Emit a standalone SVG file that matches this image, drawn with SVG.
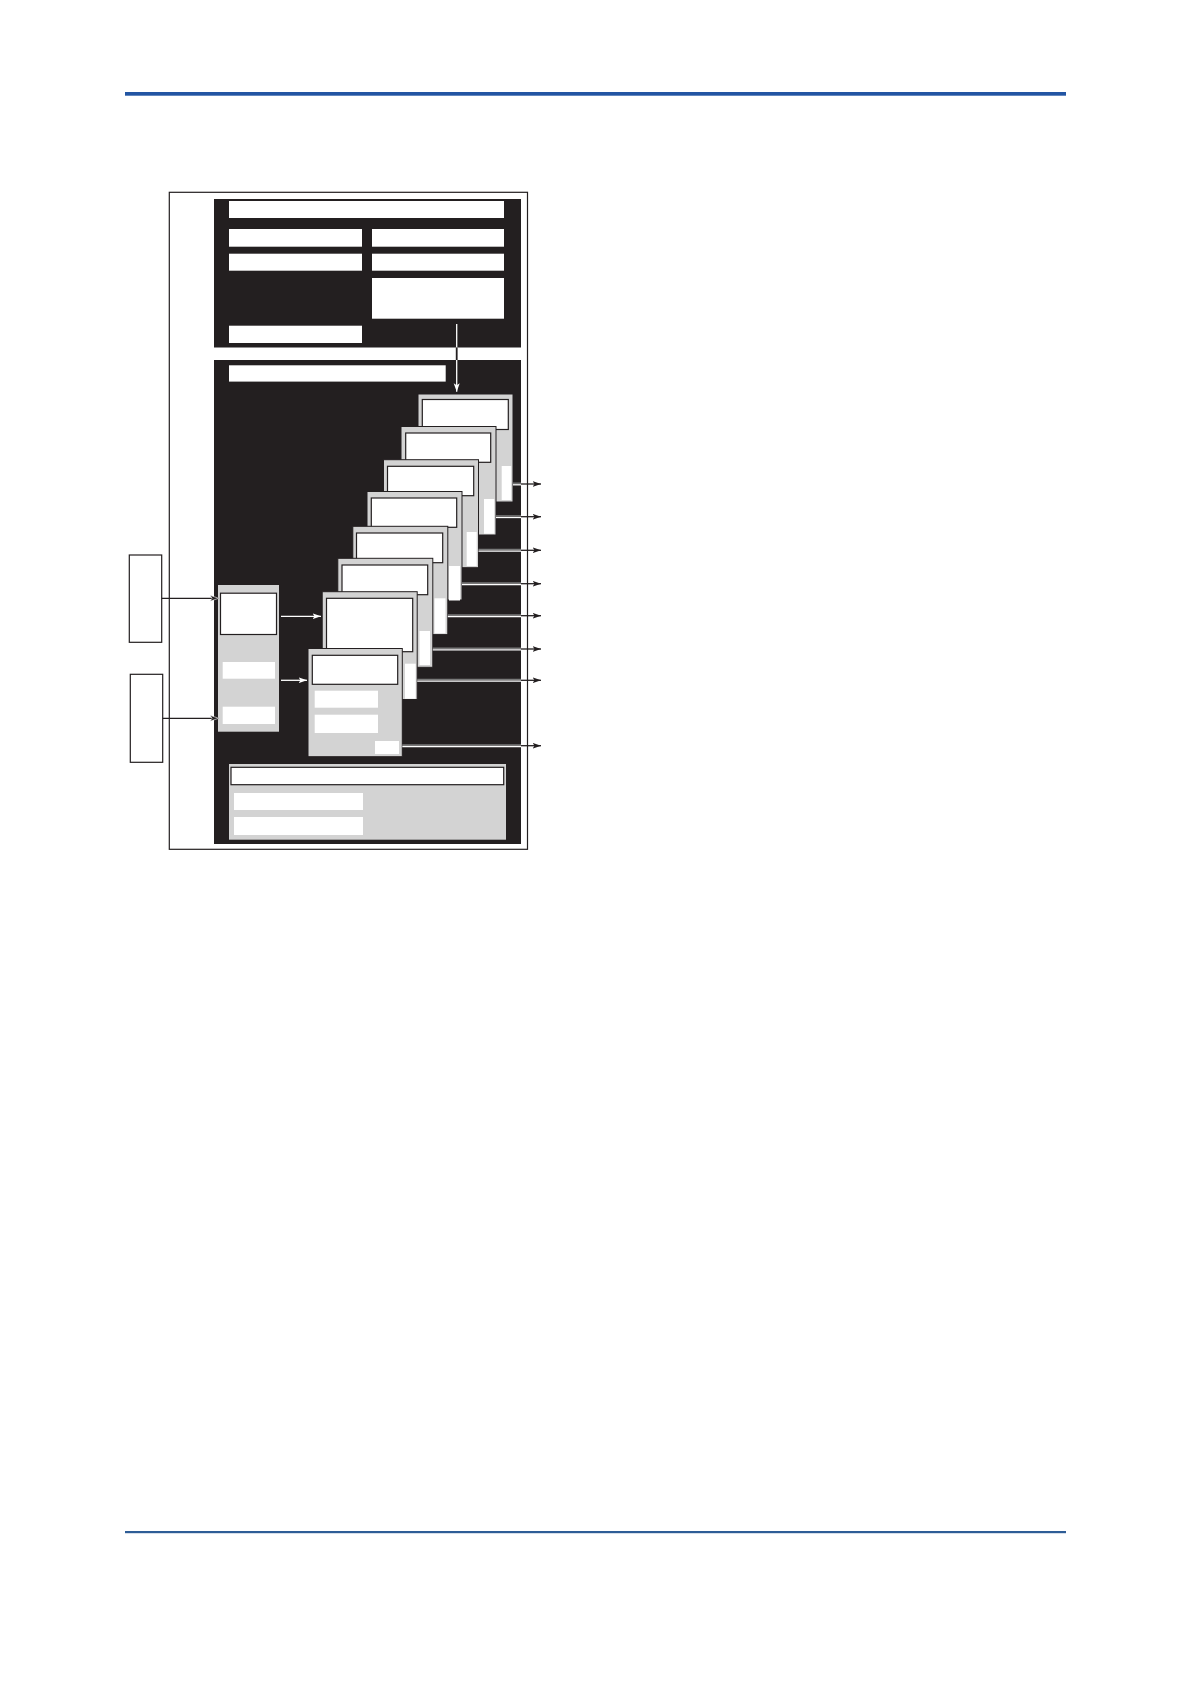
<svg xmlns="http://www.w3.org/2000/svg" width="1191" height="1684" viewBox="0 0 1191 1684">
<defs>
<style>
.dk{fill:#231f20}
.wb{fill:#ffffff}
.card{fill:#d3d3d3;stroke:#231f20;stroke-width:1}
.inbox{fill:#ffffff;stroke:#231f20;stroke-width:1.2}
.ext{fill:#ffffff;stroke:#231f20;stroke-width:1.2}
.ln-dk{stroke:#231f20;stroke-width:1.3;fill:none}
.ln-wh{stroke:#ffffff;stroke-width:1.3;fill:none}
.ln-gr{stroke:#7a7a7a;stroke-width:1.4;fill:none}
</style>
<marker id="ahd" markerUnits="userSpaceOnUse" markerWidth="9" markerHeight="7" refX="8.5" refY="3.5" orient="auto">
<path d="M0,0.5 L8.5,3.5 L0,6.5 L2,3.5 z" fill="#231f20"/>
</marker>
<marker id="ahw" markerUnits="userSpaceOnUse" markerWidth="9" markerHeight="7" refX="8.5" refY="3.5" orient="auto">
<path d="M0,0.5 L8.5,3.5 L0,6.5 L2,3.5 z" fill="#ffffff"/>
</marker>
<marker id="ahdw" markerUnits="userSpaceOnUse" markerWidth="11" markerHeight="9" refX="9.5" refY="4.5" orient="auto">
<path d="M1,1.5 L9.5,4.5 L1,7.5 L3,4.5 z" fill="#231f20" stroke="#ffffff" stroke-width="0.6"/>
</marker>
</defs>
<g id="page-rules">
<rect x="125" y="92" width="941" height="3.7" fill="#2255a3"/>
<rect x="125" y="1531" width="941" height="2.2" fill="#2e5d96"/>
</g>
<g id="frame">
<rect x="169.3" y="192.3" width="358.2" height="657" fill="#ffffff" stroke="#231f20" stroke-width="1.2"/>
</g>
<g id="panel-top">
<rect class="dk" x="214" y="199" width="307" height="148.5"/>
<rect class="wb" x="229" y="201" width="275" height="17"/>
<rect class="wb" x="229" y="229" width="133" height="17.7"/>
<rect class="wb" x="372" y="229" width="132" height="17.7"/>
<rect class="wb" x="229" y="253.7" width="133" height="17"/>
<rect class="wb" x="372" y="253.7" width="132" height="17"/>
<rect class="wb" x="372" y="278" width="132" height="40.7"/>
<rect class="wb" x="229" y="325.7" width="133" height="17.3"/>
</g>
<g id="panel-main">
<rect class="dk" x="214" y="360" width="307" height="484"/>
<rect class="wb" x="229" y="365.3" width="216.7" height="16.3"/>
</g>
<g id="ext-1"><rect class="ext" x="129.3" y="555" width="32.4" height="87.3"/></g>
<g id="ext-2"><rect class="ext" x="130.3" y="674.3" width="32.4" height="88"/></g>
<g id="input-block">
<rect x="218" y="585" width="61" height="146.7" fill="#d3d3d3"/>
<rect class="inbox" x="220.5" y="593.2" width="56" height="41.3"/>
<rect class="wb" x="222.7" y="662" width="52.3" height="16.7"/>
<rect class="wb" x="222.7" y="706.7" width="52.3" height="17.3"/>
</g>
<g id="card-1">
<rect class="card" x="418" y="394" width="95" height="108"/>
<rect class="inbox" x="422.3" y="399.5" width="86" height="30"/>
<rect class="wb" x="501.7" y="466" width="9.5" height="34"/>
</g>
<g id="card-2">
<rect class="card" x="401" y="426.5" width="95" height="108.5"/>
<rect class="inbox" x="405.7" y="433" width="85" height="29.3"/>
<rect class="wb" x="484" y="499" width="10.3" height="34.7"/>
</g>
<g id="card-3">
<rect class="card" x="383.5" y="459.7" width="95" height="108"/>
<rect class="inbox" x="387.5" y="466.3" width="86.2" height="29.4"/>
<rect class="wb" x="466.7" y="532" width="10" height="34"/>
</g>
<g id="card-4">
<rect class="card" x="367" y="491.5" width="95" height="108.5"/>
<rect class="inbox" x="371.3" y="498" width="85.4" height="29.3"/>
<rect class="wb" x="449" y="566" width="11" height="34.5"/>
</g>
<g id="card-5">
<rect class="card" x="352.8" y="526.3" width="95" height="108.3"/>
<rect class="inbox" x="356.5" y="533" width="86.2" height="29.7"/>
<rect class="wb" x="434.5" y="598.3" width="11" height="35"/>
</g>
<g id="card-6">
<rect class="card" x="337.8" y="558.3" width="95" height="109"/>
<rect class="inbox" x="342" y="565" width="85.7" height="29.7"/>
<rect class="wb" x="419.5" y="631" width="10.5" height="34"/>
</g>
<g id="card-7">
<rect class="card" x="322.2" y="591.7" width="95" height="107.8"/>
<rect class="inbox" x="326.5" y="598.3" width="86.2" height="53.4"/>
<rect class="wb" x="405" y="663.7" width="10.7" height="35"/>
</g>
<g id="card-8">
<rect class="card" x="308" y="648.5" width="94.3" height="108.2"/>
<rect class="inbox" x="312.3" y="655.3" width="85.4" height="29"/>
<rect class="wb" x="314.7" y="690.7" width="63.3" height="17"/>
<rect class="wb" x="314.7" y="714.7" width="63.3" height="18.3"/>
<rect class="wb" x="375" y="741" width="24" height="13"/>
</g>
<g id="output-block">
<rect x="229" y="764" width="277" height="75.7" fill="#d3d3d3"/>
<rect class="inbox" x="231" y="767.3" width="272.7" height="17.4"/>
<rect class="wb" x="234" y="793" width="129" height="17"/>
<rect class="wb" x="234" y="817" width="129" height="18"/>
</g>
<g id="connectors">
<line class="ln-wh" x1="456.7" y1="324" x2="456.7" y2="347.5"/>
<line x1="456.7" y1="347.5" x2="456.7" y2="360" stroke="#231f20" stroke-width="1.8"/>
<line class="ln-wh" x1="456.7" y1="360" x2="456.7" y2="391.7" marker-end="url(#ahw)"/>
<line class="ln-dk" x1="161.7" y1="598.3" x2="218.5" y2="598.3" marker-end="url(#ahdw)"/>
<line class="ln-dk" x1="162.7" y1="718.3" x2="218.5" y2="718.3" marker-end="url(#ahdw)"/>
<line class="ln-wh" x1="281" y1="616.3" x2="321" y2="616.3" marker-end="url(#ahw)"/>
<line class="ln-wh" x1="281" y1="680.3" x2="307" y2="680.3" marker-end="url(#ahw)"/>
<g id="out-arrows">
<line class="ln-gr" x1="513" y1="483.2" x2="521" y2="483.2"/>
<line class="ln-gr" x1="496" y1="515.9" x2="521" y2="515.9"/>
<line class="ln-gr" x1="478.5" y1="549.5" x2="521" y2="549.5"/>
<line class="ln-gr" x1="462" y1="582.9" x2="521" y2="582.9"/>
<line class="ln-gr" x1="447.8" y1="614.9" x2="521" y2="614.9"/>
<line class="ln-gr" x1="432.8" y1="648.2" x2="521" y2="648.2"/>
<line class="ln-gr" x1="417.2" y1="679.5" x2="521" y2="679.5"/>
<line class="ln-gr" x1="402.3" y1="744.9" x2="521" y2="744.9"/>
<line class="ln-wh" x1="513" y1="484.8" x2="521" y2="484.8"/>
<line class="ln-wh" x1="496" y1="517.5" x2="521" y2="517.5"/>
<line class="ln-wh" x1="478.5" y1="551.1" x2="521" y2="551.1"/>
<line class="ln-wh" x1="462" y1="584.5" x2="521" y2="584.5"/>
<line class="ln-wh" x1="447.8" y1="616.5" x2="521" y2="616.5"/>
<line class="ln-wh" x1="432.8" y1="649.8" x2="521" y2="649.8"/>
<line class="ln-wh" x1="417.2" y1="681.1" x2="521" y2="681.1"/>
<line class="ln-wh" x1="402.3" y1="746.5" x2="521" y2="746.5"/>
<line class="ln-dk" x1="521" y1="484" x2="541" y2="484" marker-end="url(#ahd)"/>
<line class="ln-dk" x1="521" y1="516.7" x2="541" y2="516.7" marker-end="url(#ahd)"/>
<line class="ln-dk" x1="521" y1="550.3" x2="541" y2="550.3" marker-end="url(#ahd)"/>
<line class="ln-dk" x1="521" y1="583.7" x2="541" y2="583.7" marker-end="url(#ahd)"/>
<line class="ln-dk" x1="521" y1="615.7" x2="541" y2="615.7" marker-end="url(#ahd)"/>
<line class="ln-dk" x1="521" y1="649" x2="541" y2="649" marker-end="url(#ahd)"/>
<line class="ln-dk" x1="521" y1="680.3" x2="541" y2="680.3" marker-end="url(#ahd)"/>
<line class="ln-dk" x1="521" y1="745.7" x2="541" y2="745.7" marker-end="url(#ahd)"/>
</g>
</g>
</svg>
